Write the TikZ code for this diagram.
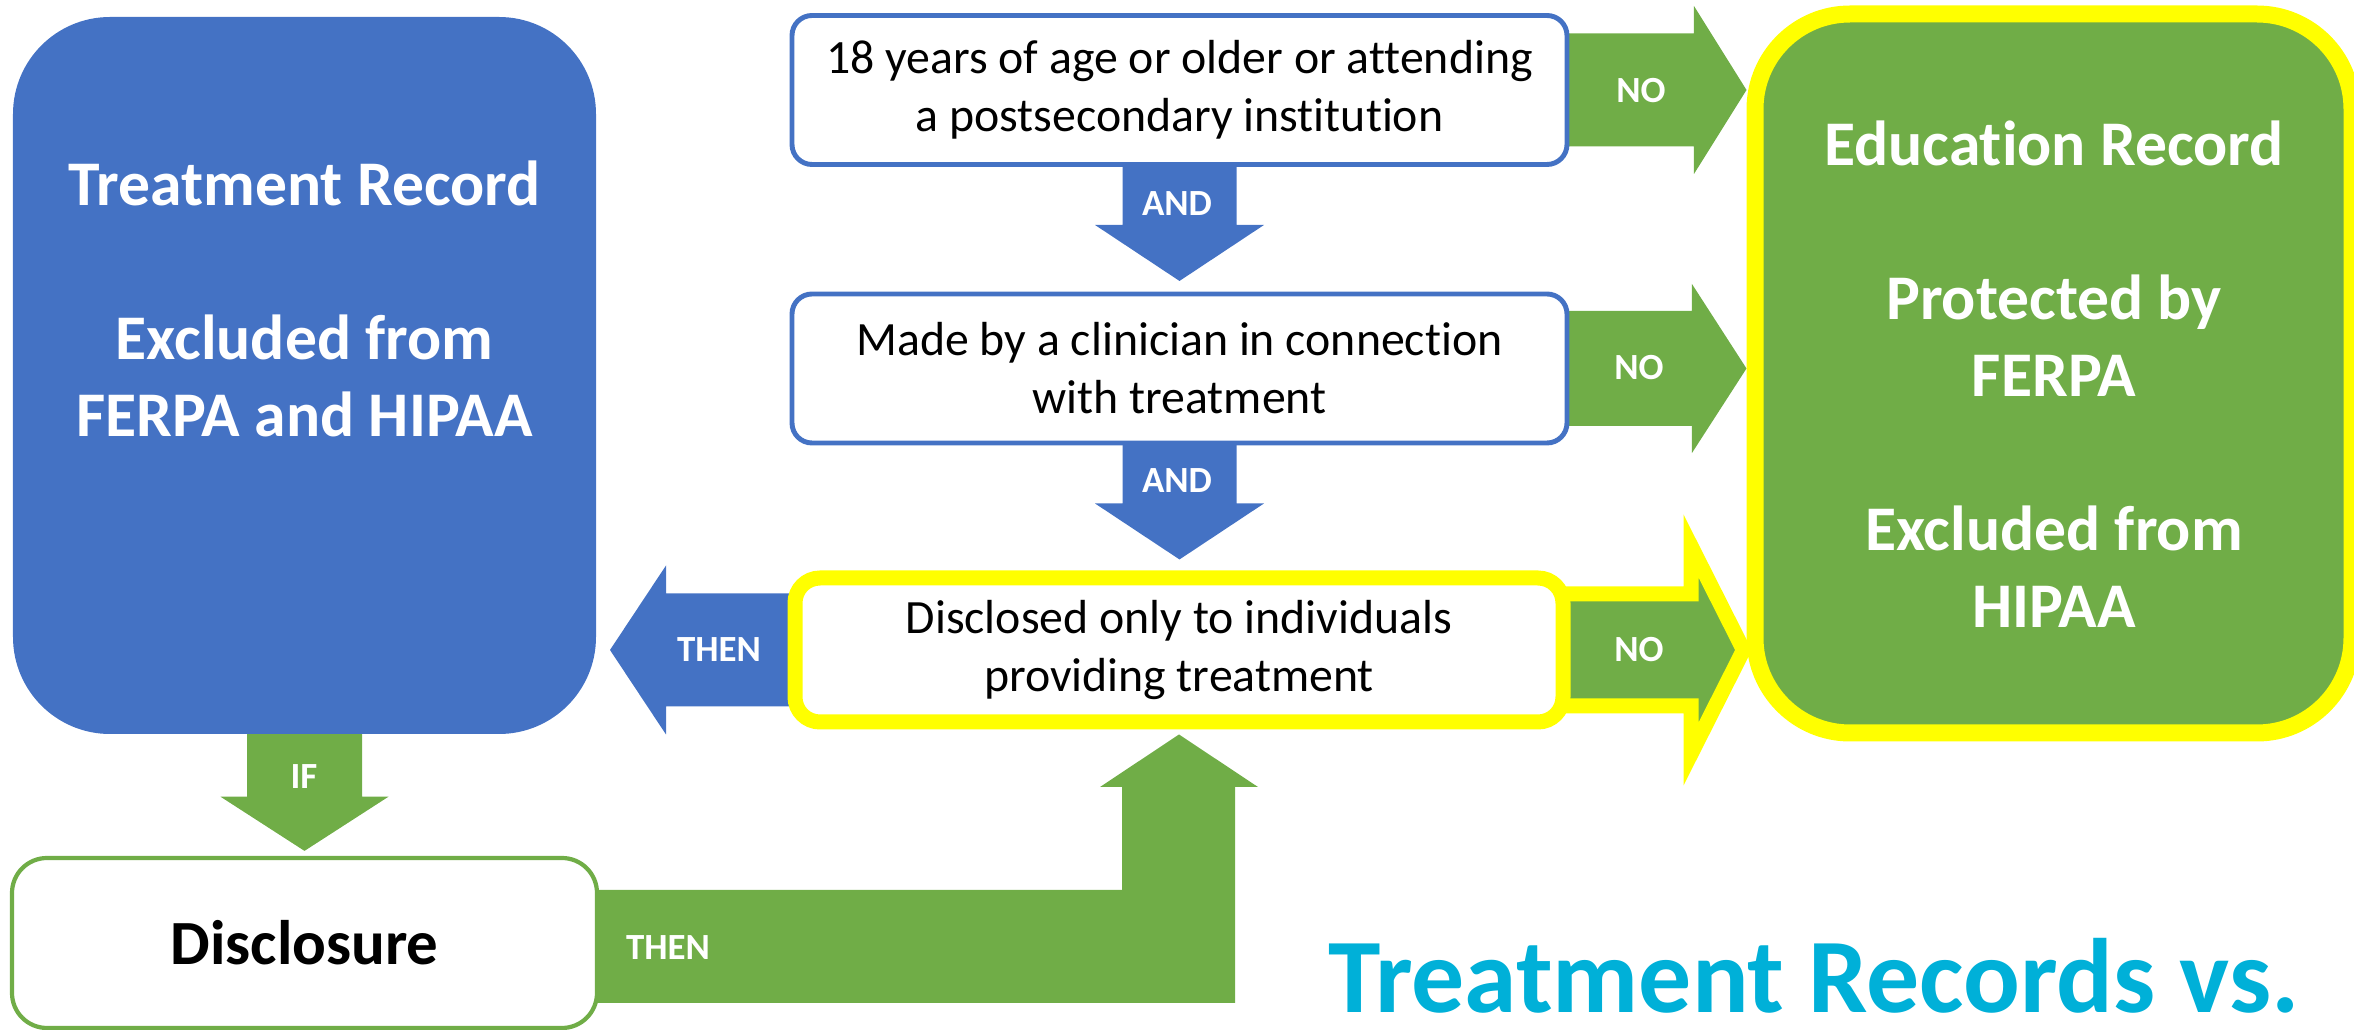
\documentclass[tikz,border=0pt]{standalone}
\usepackage{fontspec}
\setmainfont{Carlito}[Ligatures={NoCommon}]
\usetikzlibrary{calc,backgrounds}

\definecolor{recblue}{HTML}{4472C4}
\definecolor{recgreen}{HTML}{70AD47}
\definecolor{recyellow}{HTML}{FFFF00}
\definecolor{titlecyan}{HTML}{00B0D8}

\begin{document}
\begin{tikzpicture}[
  bigtext/.style={text=white, align=center, font=\fontsize{18.1}{21.9}\selectfont\bfseries},
  condbox/.style={draw=recblue, line width=1.4pt, fill=white, rounded corners=0.2cm,
    minimum width=7.75cm, minimum height=1.49cm, align=center,
    font=\fontsize{13.6}{16.5}\selectfont},
  armtag/.style={text=white, font=\fontsize{10.5}{12}\selectfont\bfseries}]
\useasboundingbox (0,0) rectangle (23.54,10.30);

% the two record boxes
\node[fill=recblue, rounded corners=0.97cm, minimum width=5.83cm, minimum height=7.17cm] (treat) at (3.045,6.545) {};
\node[bigtext] (treattxt) at (3.045,7.31) {Treatment Record\\[21.9pt]Excluded from\\FERPA and HIPAA};
\node[draw=recyellow, fill=recgreen, line width=0.17cm, rounded corners=0.95cm, minimum width=5.97cm, minimum height=7.19cm] (edu) at (20.535,6.565) {};
\node[bigtext] (edutxt) at (20.54,6.555) {Education Record\\[21.9pt]Protected by\\FERPA\\[21.9pt]Excluded from\\HIPAA};

% conditions
\node[condbox] (age) at (11.795,9.40) {18 years of age or older or attending\\a postsecondary institution};
\node[condbox] (clin) at (11.795,6.615) {Made by a clinician in connection\\with treatment};
\node[condbox, draw=recyellow, line width=0.15cm, rounded corners=0.25cm, minimum width=7.68cm, minimum height=1.44cm] (share) at (11.79,3.80) {Disclosed only to individuals\\providing treatment};
\node[draw=recgreen, line width=1.2pt, fill=white, rounded corners=0.35cm, minimum width=5.85cm, minimum height=1.70cm, font=\fontsize{17.9}{21.9}\selectfont\bfseries] (disc) at (3.045,0.87) {Disclosure};

\node[text=titlecyan, font=\fontsize{30.1}{34}\selectfont\bfseries, anchor=base, inner sep=0pt] (title) at (18.14,0.17) {Treatment Records vs.};

% block arrows behind the boxes
\begin{scope}[on background layer]
\fill[recblue] ($(age.south)+(-0.57,0.3)$) -- ($(age.south)+(-0.57,-0.58)$) -- ++(-0.275,0) -- ($(age.south)+(0,-1.14)$) -- ($(age.south)+(0.845,-0.58)$) -- ++(-0.275,0) -- ($(age.south)+(0.57,0.3)$) -- cycle;
\fill[recblue] ($(clin.south)+(-0.57,0.3)$) -- ($(clin.south)+(-0.57,-0.58)$) -- ++(-0.275,0) -- ($(clin.south)+(0,-1.14)$) -- ($(clin.south)+(0.845,-0.58)$) -- ++(-0.275,0) -- ($(clin.south)+(0.57,0.3)$) -- cycle;

\fill[recgreen] ($(age.east)+(-0.3,0.565)$) -- ++(1.545,0) -- ++(0,0.275) -- (age.east -| edu.west) -- ($(age.east)+(1.245,-0.84)$) -- ++(0,0.275) -- ($(age.east)+(-0.3,-0.565)$) -- cycle;
\fill[recgreen] ($(clin.east)+(-0.3,0.575)$) -- ++(1.525,0) -- ++(0,0.27) -- (clin.east -| edu.west) -- ($(clin.east)+(1.225,-0.845)$) -- ++(0,0.27) -- ($(clin.east)+(-0.3,-0.575)$) -- cycle;
\filldraw[fill=recgreen, draw=recyellow, line width=0.15cm] ($(share.east)+(-0.3,0.56)$) -- ++(1.505,0) -- ++(0,0.48) -- ($(share.east -| edu.west)+(-0.03,0)$) -- ($(share.east)+(1.205,-1.04)$) -- ++(0,0.48) -- ($(share.east)+(-0.3,-0.56)$) -- cycle;

\coordinate (thentip) at (6.10,3.80);
\fill[recblue] ($(share.west)+(0.3,0.565)$) -- ($(share.west)+(-1.215,0.565)$) -- ++(0,0.28) -- (thentip) -- ($(share.west)+(-1.215,-0.845)$) -- ++(0,0.28) -- ($(share.west)+(0.3,-0.565)$) -- cycle;

\fill[recgreen] ($(treat.south)+(-0.575,0.3)$) -- ($(treat.south)+(-0.575,-0.62)$) -- ++(-0.265,0) -- ($(disc.north)+(0,0.05)$) -- ($(treat.south)+(0.84,-0.62)$) -- ++(-0.265,0) -- ($(treat.south)+(0.575,0.3)$) -- cycle;

\fill[recgreen] ($(disc.east)+(-0.3,0.53)$) -- (11.22,1.40) -- (11.22,2.43) -- (11.00,2.43) -- ($(share.south)+(0,-0.05)$) -- (12.58,2.43) -- (12.35,2.43) -- (12.35,0.27) -- ($(disc.east)+(-0.3,-0.60)$) -- cycle;
\end{scope}

% arrow words
\node[armtag] (and1) at (11.77,8.26) {AND};
\node[armtag] (and2) at (11.77,5.49) {AND};
\node[armtag] (no1) at (16.41,9.39) {NO};
\node[armtag] (no2) at (16.39,6.62) {NO};
\node[armtag] (no3) at (16.39,3.80) {NO};
\node[armtag] (then1) at (7.19,3.80) {THEN};
\node[armtag] (iflbl) at (3.04,2.53) {IF};
\node[armtag] (then2) at (6.68,0.82) {THEN};
\end{tikzpicture}
\end{document}
